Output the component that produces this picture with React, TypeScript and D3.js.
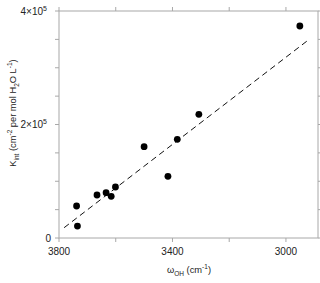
import React from "react";
import * as d3 from "d3";

const omegaOH = [3738, 3735, 3666, 3634, 3616, 3601, 3500, 3416, 3383, 3307, 2951];
const kInt = [56400, 21100, 75800, 79800, 73500, 89900, 160900, 108700, 173900, 218000, 373600];
const fitX = [3782, 2921];
const fitY = [18150, 348900];
const xTickLabels = [3800, 3400, 3000];
const xMinorTicks = [3800, 3600, 3400, 3200, 3000];
const yTicks = [0, 50000, 100000, 150000, 200000, 250000, 300000, 350000, 400000];
const yTickLabels = [
  { v: 0, m: "0", e: "" },
  { v: 200000, m: "2×10", e: "5" },
  { v: 400000, m: "4×10", e: "5" },
];

const W = 320, H = 283;
const M = { left: 59, right: 318, top: 11, bottom: 238 };

export default function App() {
  const x = d3.scaleLinear().domain([3800, 2887]).range([M.left, M.right]);
  const y = d3.scaleLinear().domain([0, 400000]).range([M.bottom, M.top]);
  const line = d3.line<number>().x((_, i) => x(fitX[i])).y((d) => y(d));
  const frame = "#a8a8a8";
  const font = "'Liberation Sans', Arial, sans-serif";
  const lf = 9.3;
  const sf = 6.5;
  return (
    <svg width={W} height={H} style={{ position: "absolute", left: 0, top: 0 }} fontFamily={font}>
      <rect x={M.left} y={M.top} width={M.right - M.left} height={M.bottom - M.top} fill="none" stroke={frame} strokeWidth={1} />
      {xMinorTicks.map((t) => (
        <g key={"xt" + t}>
          <line x1={x(t)} x2={x(t)} y1={M.bottom} y2={M.bottom + 4} stroke={frame} />
          <line x1={x(t)} x2={x(t)} y1={M.top} y2={M.top - 4} stroke={frame} />
        </g>
      ))}
      {yTicks.map((t) => (
        <g key={"yt" + t}>
          <line x1={M.left} x2={M.left - 4} y1={y(t)} y2={y(t)} stroke={frame} />
          <line x1={M.right} x2={M.right + 4} y1={y(t)} y2={y(t)} stroke={frame} />
        </g>
      ))}
      {xTickLabels.map((t) => (
        <text key={"xl" + t} x={x(t)} y={255} textAnchor="middle" fontSize={10} fill="#222">
          {t}
        </text>
      ))}
      {yTickLabels.map((t) => (
        <text key={"yl" + t.v} x={t.e ? 47 : 51} y={y(t.v) + 3.5} textAnchor="end" fontSize={10} fill="#222">
          {t.m}
          {t.e && (
            <tspan dy={-4} fontSize={7}>
              {t.e}
            </tspan>
          )}
        </text>
      ))}
      <path d={line(fitY) || ""} fill="none" stroke="#111" strokeWidth={1} strokeDasharray="6,4" />
      {omegaOH.map((w, i) => (
        <circle key={"p" + i} cx={x(w)} cy={y(kInt[i])} r={3.4} fill="#000" />
      ))}
      <text x={189} y={273} textAnchor="middle" fontSize={lf} fill="#222">
        ω<tspan dy={3} fontSize={sf}>OH</tspan>
        <tspan dy={-3}> (cm</tspan>
        <tspan dy={-4} fontSize={sf}>-1</tspan>
        <tspan dy={4}>)</tspan>
      </text>
      <text transform={`translate(16,${113}) rotate(-90)`} textAnchor="middle" fontSize={lf} fill="#222">
        K<tspan dy={3} fontSize={sf}>int</tspan>
        <tspan dy={-3}> (cm</tspan>
        <tspan dy={-4} fontSize={sf}>-2</tspan>
        <tspan dy={4}> per mol H</tspan>
        <tspan dy={3} fontSize={sf}>2</tspan>
        <tspan dy={-3}>O L</tspan>
        <tspan dy={-4} fontSize={sf}>-1</tspan>
        <tspan dy={4}>)</tspan>
      </text>
    </svg>
  );
}
